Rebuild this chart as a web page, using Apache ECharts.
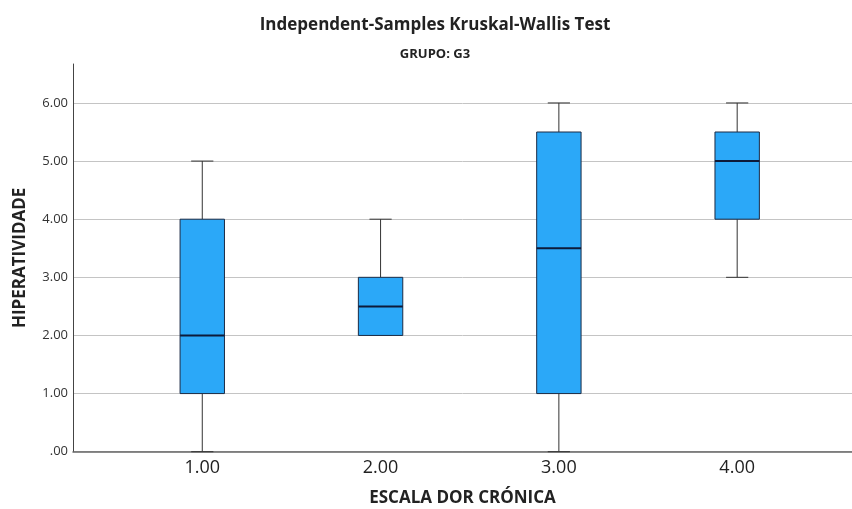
<!DOCTYPE html>
<html>
<head>
<meta charset="utf-8">
<script src="https://cdn.jsdelivr.net/npm/echarts@6/dist/echarts.min.js"></script>
<style>html,body{margin:0;padding:0;background:#fff}#c{width:852px;height:509px}</style>
</head>
<body>
<div id="c"></div>
<script>
var categories = [1, 2, 3, 4];
var mins    = [0, 2, 0, 3];
var q1s     = [1, 2, 1, 4];
var medians = [2, 2.5, 3.5, 5];
var q3s     = [4, 3, 5.5, 5.5];
var maxs    = [5, 4, 6, 6];
var yTicks  = [0, 1, 2, 3, 4, 5, 6];

var data = categories.map(function (c, i) {
  return [c, mins[i], q1s[i], medians[i], q3s[i], maxs[i]];
});

var FONT = '"Open Sans", "Noto Sans", sans-serif';
var chart = echarts.init(document.getElementById('c'), null, {renderer: 'canvas'});

function fmt(v) {
  var s = Number(v).toFixed(2);
  return s.charAt(0) === '0' ? s.slice(1) : s;
}

chart.setOption({
  animation: false,
  graphic: [{
    type: 'text', x: 435, y: 25.5,
    style: {text: 'Independent-Samples Kruskal-Wallis Test', align: 'center', verticalAlign: 'middle',
      font: 'bold 17px ' + FONT, fill: '#222'}
  }, {
    type: 'text', x: 435, y: 54,
    style: {text: 'GRUPO: G3', align: 'center', verticalAlign: 'middle',
      font: 'bold 13px ' + FONT, fill: '#222'}
  }],
  grid: {left: 73, right: 0, top: 64, bottom: 57.3, containLabel: false, outerBoundsMode: 'none'},
  xAxis: {
    type: 'value', min: 0.275, max: 4.644,
    name: 'ESCALA DOR CRÓNICA', nameLocation: 'middle', nameGap: 38,
    nameTextStyle: {fontFamily: FONT, fontWeight: 'bold', fontSize: 17, color: '#222'},
    axisLine: {show: true, lineStyle: {color: '#666', width: 1.5}},
    axisTick: {show: false},
    splitLine: {show: false},
    axisLabel: {customValues: categories, formatter: fmt, fontFamily: FONT, fontSize: 18, color: '#222', margin: 7}
  },
  yAxis: {
    type: 'value', min: 0, max: 6.67,
    name: 'HIPERATIVIDADE', nameLocation: 'middle', nameGap: 44,
    nameTextStyle: {fontFamily: FONT, fontWeight: 'bold', fontSize: 17, color: '#222'},
    axisLine: {show: true, lineStyle: {color: '#444', width: 1}},
    axisTick: {show: false, customValues: yTicks},
    splitLine: {show: true, lineStyle: {color: '#c4c4c4', width: 1}},
    axisLabel: {customValues: yTicks, formatter: fmt, fontFamily: FONT, fontSize: 13, color: '#333', margin: 5}
  },
  series: [{
    type: 'custom',
    data: data,
    encode: {x: 0, y: [1, 2, 3, 4, 5]},
    renderItem: function (params, api) {
      var x = api.value(0);
      var pMin = api.coord([x, api.value(1)]);
      var pQ1 = api.coord([x, api.value(2)]);
      var pMed = api.coord([x, api.value(3)]);
      var pQ3 = api.coord([x, api.value(4)]);
      var pMax = api.coord([x, api.value(5)]);
      var hw = api.size([0.249, 0])[0] / 2;
      var cw = hw / 2;
      var cx = pMed[0];
      var wStyle = {stroke: '#333', lineWidth: 1};
      return {
        type: 'group',
        children: [
          {type: 'line', shape: {x1: cx, y1: pQ1[1], x2: cx, y2: pMin[1]}, style: wStyle},
          {type: 'line', shape: {x1: cx, y1: pQ3[1], x2: cx, y2: pMax[1]}, style: wStyle},
          {type: 'line', shape: {x1: cx - cw, y1: pMin[1], x2: cx + cw, y2: pMin[1]}, style: wStyle},
          {type: 'line', shape: {x1: cx - cw, y1: pMax[1], x2: cx + cw, y2: pMax[1]}, style: wStyle},
          {type: 'rect', shape: {x: cx - hw, y: pQ3[1], width: hw * 2, height: pQ1[1] - pQ3[1]},
            style: {fill: '#2ba8f8', stroke: '#1c2b45', lineWidth: 1}},
          {type: 'line', shape: {x1: cx - hw, y1: pMed[1], x2: cx + hw, y2: pMed[1]},
            style: {stroke: '#0d1a3a', lineWidth: 2}}
        ]
      };
    }
  }]
});
</script>
</body>
</html>
